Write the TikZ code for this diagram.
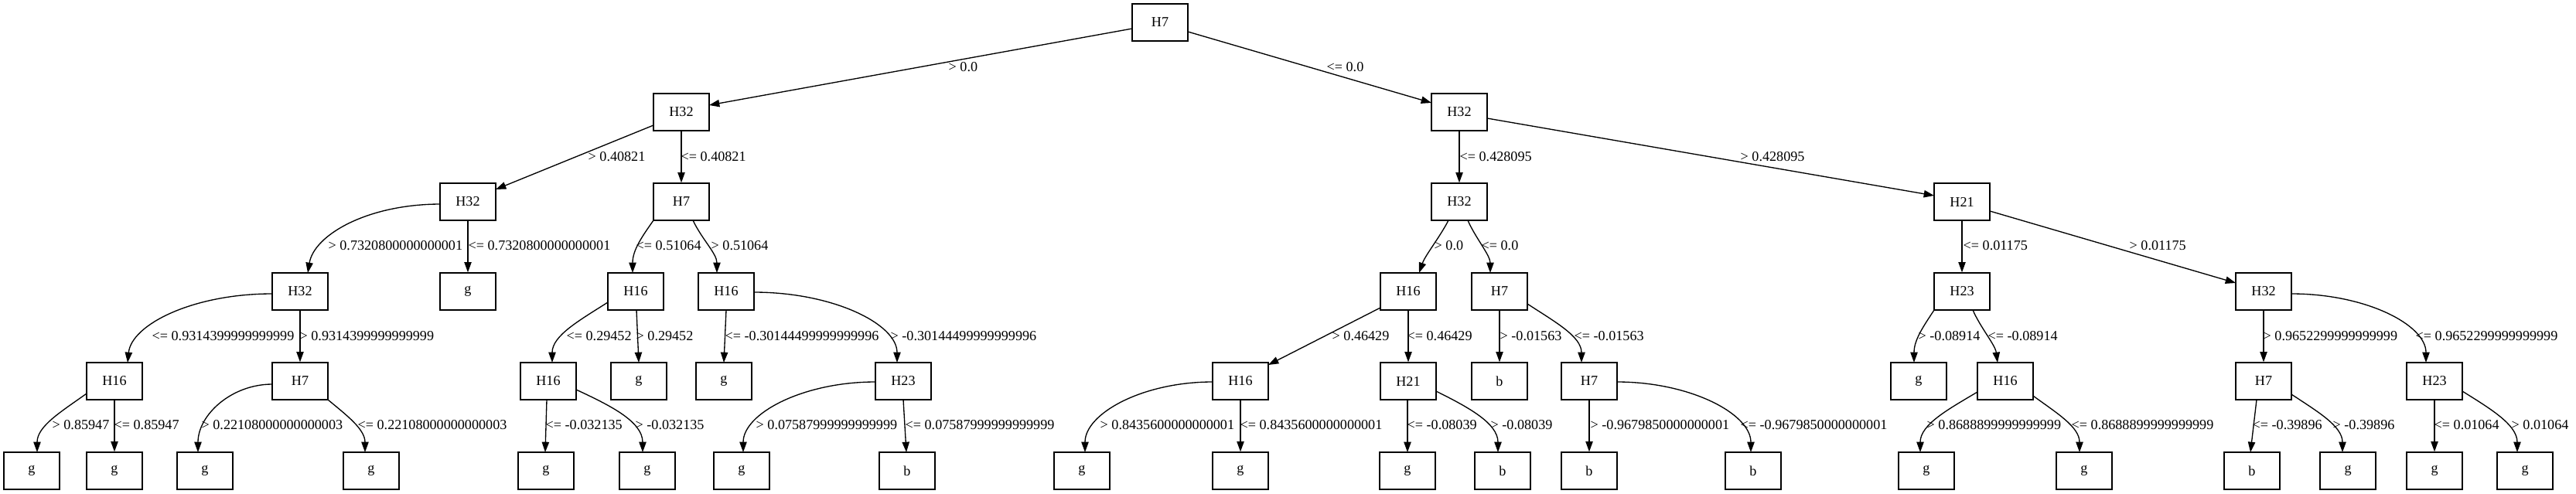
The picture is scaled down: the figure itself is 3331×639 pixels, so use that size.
\documentclass[tikz,border=0pt]{standalone}
\usepackage{fontspec}
\setmainfont{Liberation Serif}
\usetikzlibrary{arrows.meta,calc}
\tikzset{
  box/.style={draw, line width=1pt, rectangle, minimum width=54pt, minimum height=36pt, inner sep=0pt, font=\fontsize{13.6}{16}\selectfont},
  lbl/.style={anchor=west, inner sep=0pt, font=\fontsize{13.6}{16}\selectfont},
  edge/.style={draw, line width=1pt, -{Triangle[length=10pt,width=7pt]}},
}
\begin{document}
\begin{tikzpicture}[x=0.75pt, y=-0.75pt]
\useasboundingbox (0,0) rectangle (3331,639);
% level 0-3
\node[box] (R) at (1500,29) {H7};
\node[box] (A) at (881,145) {H32};
\node[box] (B) at (1887,145) {H32};
\node[box] (C) at (605,261) {H32};
\node[box] (D) at (881,261) {H7};
\node[box] (E) at (1887,261) {H32};
\node[box] (F) at (2537,261) {H21};
\node[box] (G) at (388,377) {H32};
\node[box] (Hg) at (605,377) {g};
\node[box] (I) at (822,377) {H16};
\node[box] (J) at (939,377) {H16};
\node[box] (K) at (1821,377) {H16};
\node[box] (L) at (1939,377) {H7};
\node[box] (M) at (2537,377) {H23};
\node[box] (N) at (2927,377) {H32};
% level 4
\node[box] (O) at (148,493) {H16};
\node[box] (P) at (388,493) {H7};
\node[box] (Q) at (709,493) {H16};
\node[box] (g1) at (826,493) {g};
\node[box] (g2) at (936,493) {g};
\node[box] (S) at (1168,493) {H23};
\node[box] (T) at (1604,493) {H16};
\node[box] (U) at (1821,493) {H21};
\node[box] (b1) at (1939,493) {b};
\node[box] (V) at (2055,493) {H7};
\node[box] (g3) at (2481,493) {g};
\node[box] (W) at (2593,493) {H16};
\node[box] (X) at (2927,493) {H7};
\node[box] (Y) at (3148,493) {H23};
% level 5
\node[box] (z1) at (41,609) {g};
\node[box] (z2) at (148,609) {g};
\node[box] (z3) at (265,609) {g};
\node[box] (z4) at (480,609) {g};
\node[box] (z5) at (706,609) {g};
\node[box] (z6) at (837,609) {g};
\node[box] (z7) at (959,609) {g};
\node[box] (z8) at (1173,609) {b};
\node[box] (z9) at (1399,609) {g};
\node[box] (z10) at (1604,609) {g};
\node[box] (z11) at (1820,609) {g};
\node[box] (z12) at (1943,609) {b};
\node[box] (z13) at (2055,609) {b};
\node[box] (z14) at (2267,609) {b};
\node[box] (z15) at (2491,609) {g};
\node[box] (z16) at (2695,609) {g};
\node[box] (z17) at (2912,609) {b};
\node[box] (z18) at (3036,609) {g};
\node[box] (z19) at (3148,609) {g};
\node[box] (z20) at (3265,609) {g};
% edges level 0-1
\draw[edge] ($(R)+(-36,8)$) -- ($(A)+(36,-9)$) node[lbl] (l1) at (1226,87) {> 0.0};
\draw[edge] ($(R)+(36,12)$) -- ($(B)+(-36,-12)$) node[lbl] (l2) at (1715,87) {<= 0.0};
% level 1-2
\draw[edge] ($(A)+(-36,17)$) -- ($(C)+(36,-16)$) node[lbl] (l3) at (760,203) {> 0.40821};
\draw[edge] (A.south) -- (D.north) node[lbl] (l4) at (880,203) {<= 0.40821};
\draw[edge] (B.south) -- (E.north) node[lbl] (l5) at (1887,203) {<= 0.428095};
\draw[edge] ($(B)+(36,8)$) -- ($(F)+(-36,-8)$) node[lbl] (l6) at (2250,203) {> 0.428095};
% level 2-3
\draw[edge] ($(C)+(-35,3)$) .. controls +(-95,0) and +(8,-49) .. ($(G)+(10,-24)$) node[lbl] (l7) at (424,318) {> 0.7320800000000001};
\draw[edge] (C.south) -- (Hg.north) node[lbl] (l8) at (605,318) {<= 0.7320800000000001};
\draw[edge] ($(D)+(-36,24)$) .. controls +(-14,20) and +(0,-30) .. ($(I)+(-4,-24)$) node[lbl] (l9) at (822,318) {<= 0.51064};
\draw[edge] ($(D)+(15,24)$) .. controls +(12,25) and +(0,-25) .. ($(J)+(-12,-24)$) node[lbl] (l10) at (919,318) {> 0.51064};
\draw[edge] ($(E)+(-14,24)$) .. controls +(-12,23) and +(8,-23) .. ($(K)+(14,-24)$) node[lbl] (l11) at (1854,318) {> 0.0};
\draw[edge] ($(E)+(11,24)$) .. controls +(10,23) and +(0,-23) .. ($(L)+(-12,-24)$) node[lbl] (l12) at (1915,318) {<= 0.0};
\draw[edge] (F.south) -- (M.north) node[lbl] (l13) at (2538,318) {<= 0.01175};
\draw[edge] ($(F)+(36,12)$) -- ($(N)+(-36,-11)$) node[lbl] (l14) at (2753,318) {> 0.01175};
% level 3-4
\draw[edge] ($(G)+(-36,3)$) .. controls +(-103,0) and +(5,-49) .. ($(O)+(17,-24)$) node[lbl] (l15) at (196,435) {<= 0.9314399999999999};
\draw[edge] (G.south) -- (P.north) node[lbl] (l16) at (387,435) {> 0.9314399999999999};
\draw[edge] ($(I)+(-36,14)$) .. controls +(-36,23) and +(0,-35) .. ($(Q)+(5,-24)$) node[lbl] (l17) at (732,435) {<= 0.29452};
\draw[edge] ($(I)+(1,24)$) -- ($(g1)+(0,-24)$) node[lbl] (l18) at (822,435) {> 0.29452};
\draw[edge] ($(J)+(0,24)$) -- ($(g2)+(0,-24)$) node[lbl] (l19) at (937,435) {<= -0.30144499999999996};
\draw[edge] ($(J)+(36,1)$) .. controls +(102,0) and +(0,-50) .. ($(S)+(-8,-24)$) node[lbl] (l20) at (1151,435) {> -0.30144499999999996};
\draw[edge] ($(K)+(-36,21)$) -- ($(T)+(36,-21)$) node[lbl] (l21) at (1722,435) {> 0.46429};
\draw[edge] (K.south) -- (U.north) node[lbl] (l22) at (1819,435) {<= 0.46429};
\draw[edge] (L.south) -- (b1.north) node[lbl] (l23) at (1939,435) {> -0.01563};
\draw[edge] ($(L)+(36,16)$) .. controls +(35,23) and +(0,-34) .. ($(V)+(-10,-24)$) node[lbl] (l24) at (2035,435) {<= -0.01563};
\draw[edge] ($(M)+(-36,24)$) .. controls +(-13,20) and +(0,-30) .. ($(g3)+(-6,-24)$) node[lbl] (l25) at (2480,435) {> -0.08914};
\draw[edge] ($(M)+(14,24)$) .. controls +(10,23) and +(-3,-23) .. ($(W)+(-10,-24)$) node[lbl] (l26) at (2570,435) {<= -0.08914};
\draw[edge] (N.south) -- (X.north) node[lbl] (l27) at (2926,435) {> 0.9652299999999999};
\draw[edge] ($(N)+(36,3)$) .. controls +(96,0) and +(0,-49) .. ($(Y)+(-11,-24)$) node[lbl] (l28) at (3123,435) {<= 0.9652299999999999};
% level 4-5
\draw[edge] ($(O)+(-36,16)$) .. controls +(-32,23) and +(0,-34) .. ($(z1)+(7,-24)$) node[lbl] (l29) at (67,550) {> 0.85947};
\draw[edge] (O.south) -- (z2.north) node[lbl] (l30) at (147,550) {<= 0.85947};
\draw[edge] ($(P)+(-36,4)$) .. controls +(-53,0) and +(0,-48) .. ($(z3)+(-9,-24)$) node[lbl] (l31) at (260,550) {> 0.22108000000000003};
\draw[edge] ($(P)+(36,24)$) .. controls +(24,20) and +(0,-30) .. ($(z4)+(-8,-24)$) node[lbl] (l32) at (462,550) {<= 0.22108000000000003};
\draw[edge] ($(Q)+(-2,24)$) -- ($(z5)+(-1,-24)$) node[lbl] (l33) at (705,550) {<= -0.032135};
\draw[edge] ($(Q)+(36,11)$) .. controls +(43,20) and +(0,-40) .. ($(z6)+(-6,-24)$) node[lbl] (l34) at (821,550) {> -0.032135};
\draw[edge] ($(S)+(-36,1)$) .. controls +(-94,0) and +(0,-50) .. ($(z7)+(2,-24)$) node[lbl] (l35) at (977,550) {> 0.07587999999999999};
\draw[edge] ($(S)+(0,24)$) -- ($(z8)+(-1,-24)$) node[lbl] (l36) at (1170,550) {<= 0.07587999999999999};
\draw[edge] ($(T)+(-36,1)$) .. controls +(-91,0) and +(0,-50) .. ($(z9)+(4,-24)$) node[lbl] (l37) at (1422,550) {> 0.8435600000000001};
\draw[edge] (T.south) -- (z10.north) node[lbl] (l38) at (1603,550) {<= 0.8435600000000001};
\draw[edge] ($(U)+(-1,24)$) -- ($(z11)+(0,-24)$) node[lbl] (l39) at (1819,550) {<= -0.08039};
\draw[edge] ($(U)+(36,13)$) .. controls +(40,20) and +(0,-38) .. ($(z12)+(-6,-24)$) node[lbl] (l40) at (1927,550) {> -0.08039};
\draw[edge] (V.south) -- (z13.north) node[lbl] (l41) at (2056,550) {> -0.9679850000000001};
\draw[edge] ($(V)+(36,1)$) .. controls +(94,0) and +(0,-50) .. ($(z14)+(-3,-24)$) node[lbl] (l42) at (2250,550) {<= -0.9679850000000001};
\draw[edge] ($(W)+(-36,14)$) .. controls +(-37,22) and +(0,-36) .. ($(z15)+(-8,-24)$) node[lbl] (l43) at (2491,550) {> 0.8688899999999999};
\draw[edge] ($(W)+(36,19)$) .. controls +(30,22) and +(0,-33) .. ($(z16)+(-6,-24)$) node[lbl] (l44) at (2678,550) {<= 0.8688899999999999};
\draw[edge] ($(X)+(-9,24)$) -- ($(z17)+(-2,-24)$) node[lbl] (l45) at (2912,550) {<= -0.39896};
\draw[edge] ($(X)+(36,17)$) .. controls +(33,22) and +(0,-34) .. ($(z18)+(-7,-24)$) node[lbl] (l46) at (3016,550) {> -0.39896};
\draw[edge] (Y.south) -- (z19.north) node[lbl] (l47) at (3147,550) {<= 0.01064};
\draw[edge] ($(Y)+(36,13)$) .. controls +(35,22) and +(0,-36) .. ($(z20)+(-10,-24)$) node[lbl] (l48) at (3247,550) {> 0.01064};
\end{tikzpicture}
\end{document}
